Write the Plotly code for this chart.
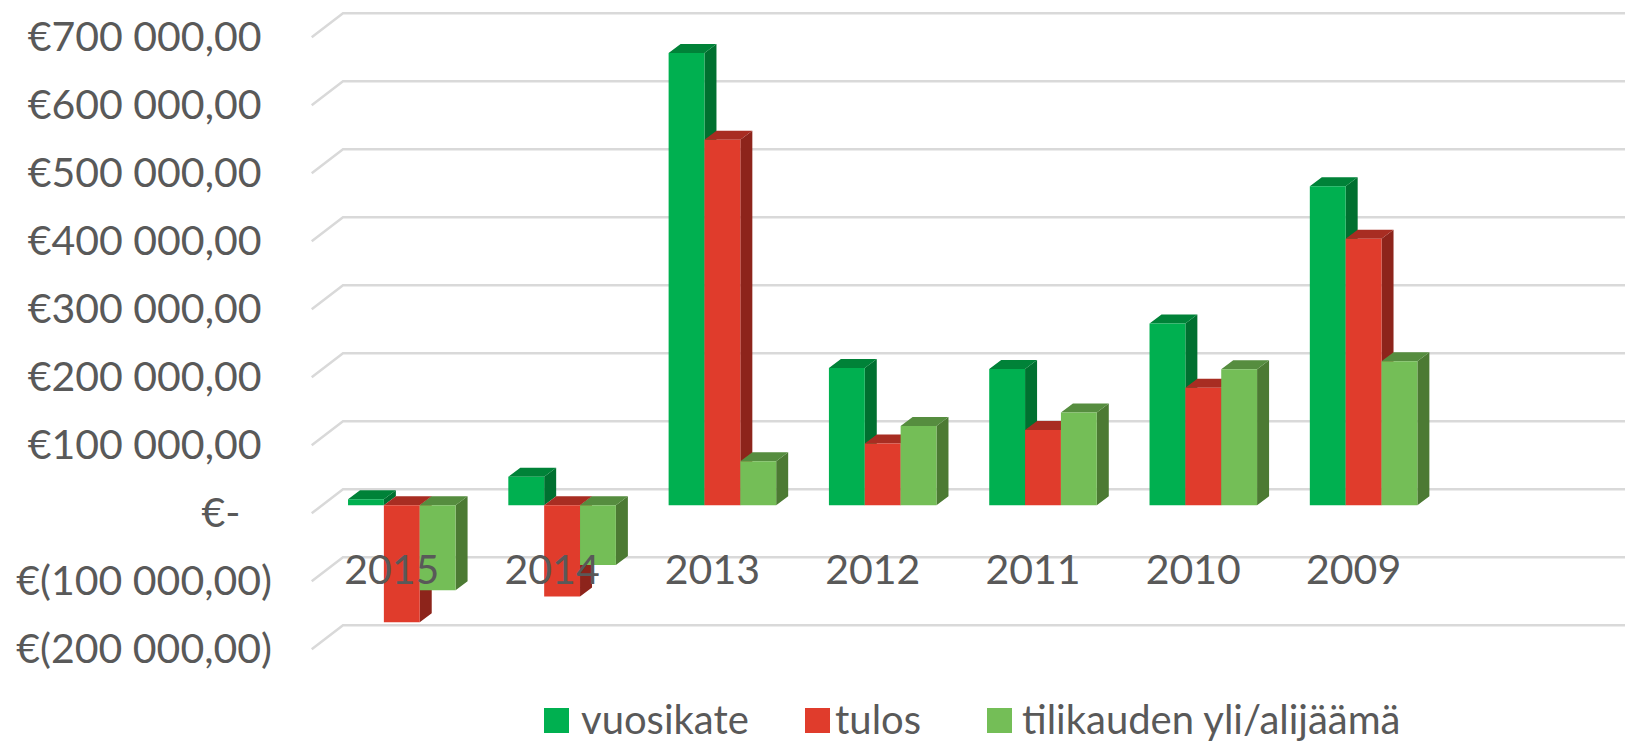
import plotly.graph_objects as go

years = ["2015", "2014", "2013", "2012", "2011", "2010", "2009"]
vuosikate = [8800, 42000, 665000, 202000, 200600, 267500, 469300]
tulos = [-172000, -134000, 537500, 90700, 110700, 173000, 392000]
yli_alijaama = [-125000, -87800, 64900, 116700, 136500, 200000, 212000]
series_names = ["vuosikate", "tulos", "tilikauden yli/alijäämä"]
y_ticks = [700000, 600000, 500000, 400000, 300000, 200000, 100000, 0, -100000, -200000]
y_labels = ["€700 000,00\u00a0", "€600 000,00\u00a0", "€500 000,00\u00a0", "€400 000,00\u00a0", "€300 000,00\u00a0",
            "€200 000,00\u00a0", "€100 000,00\u00a0", "€-\u00a0\u00a0\u00a0", "€(100 000,00)", "€(200 000,00)"]

W, H = 1625, 743
FONT = "Lato"
TEXT = "#595959"
GRID = "#D9D9D9"
front_col = ["#00B050", "#E03C2C", "#74BE57"]
top_col = ["#008238", "#A82D22", "#568D3F"]
side_col = ["#007030", "#8D241B", "#4C7A33"]

# axis calibration (pixels)
X0_PX, X_STEP = 401.8, 160.3
Y0_PX, Y_STEP = 505.3, 68.0
x_range = [(0 - X0_PX) / X_STEP, (W - X0_PX) / X_STEP]
y_range = [(Y0_PX - H) / Y_STEP * 1e5, Y0_PX / Y_STEP * 1e5]
px_x = 1 / X_STEP
px_y = 1e5 / Y_STEP
BAR_GAP = 0.329
bar_w = (1 - BAR_GAP) / 3
DEPTH_X, DEPTH_Y = 12 * px_x, 9 * px_y

fig = go.Figure()

# walls and gridlines: front edge, back edge, then to the right
wall_x0 = (311.7 - X0_PX) * px_x
wall_x1 = (343 - X0_PX) * px_x
gx, gy = [], []
for v in y_ticks:
    gx += [wall_x0, wall_x1, x_range[1], None]
    gy += [v - 8 * px_y, v + 16 * px_y, v + 16 * px_y, None]
fig.add_trace(go.Scatter(x=gx, y=gy, mode="lines", line=dict(color=GRID, width=2.5),
                         hoverinfo="skip", showlegend=False))

all_values = [vuosikate, tulos, yli_alijaama]
for s, values in enumerate(all_values):
    sx, sy, tx, ty = [], [], [], []
    for i, v in enumerate(values):
        left = i - 1.5 * bar_w + s * bar_w
        right = left + bar_w
        high = max(v, 0)
        low = min(v, 0)
        sx += [right, right + DEPTH_X, right + DEPTH_X, right, right, None]
        sy += [low, low + DEPTH_Y, high + DEPTH_Y, high, low, None]
        tx += [left, left + DEPTH_X, right + DEPTH_X, right, left, None]
        ty += [high, high + DEPTH_Y, high + DEPTH_Y, high, high, None]
    fig.add_trace(go.Scatter(x=sx, y=sy, mode="lines", fill="toself", fillcolor=side_col[s],
                             line=dict(width=0), hoverinfo="skip", showlegend=False))
    fig.add_trace(go.Scatter(x=tx, y=ty, mode="lines", fill="toself", fillcolor=top_col[s],
                             line=dict(width=0), hoverinfo="skip", showlegend=False))

for s, values in enumerate(all_values):
    fig.add_trace(go.Bar(x=years, y=values, name=series_names[s], marker=dict(color=front_col[s], line=dict(width=0)),
                         xaxis="x2", yaxis="y2", showlegend=False))

# legend
legend_sq = [544, 805, 987]
legend_tx = [579, 833, 1020]
shapes, annotations = [], []
for s, name in enumerate(series_names):
    shapes.append(dict(type="rect", xref="paper", yref="paper",
                       x0=legend_sq[s] / W, x1=(legend_sq[s] + 25) / W,
                       y0=1 - 733 / H, y1=1 - 708 / H,
                       fillcolor=front_col[s], line=dict(width=0)))
    annotations.append(dict(xref="paper", yref="paper", x=legend_tx[s] / W, y=1 - 719 / H,
                            xanchor="left", yanchor="middle", text=name, showarrow=False,
                            font=dict(family=FONT, size=40, color=TEXT)))

fig.update_layout(
    width=W, height=H, margin=dict(l=0, r=0, t=0, b=0),
    paper_bgcolor="white", plot_bgcolor="white",
    barmode="group", bargap=BAR_GAP, bargroupgap=0,
    showlegend=False, shapes=shapes, annotations=annotations,
    font=dict(family=FONT, color=TEXT, size=41),
    xaxis=dict(range=x_range, domain=[0, 1], visible=False, fixedrange=True),
    yaxis=dict(range=y_range, domain=[0, 1], anchor="free", position=272 / W, side="left",
               tickvals=y_ticks, ticktext=y_labels, showgrid=False, zeroline=False, showline=False,
               ticks="", ticklabelshift=7, tickfont=dict(family=FONT, size=41, color=TEXT), fixedrange=True),
    xaxis2=dict(type="category", overlaying="x", anchor="free", position=1 - 542 / H, range=x_range,
                tickmode="array", tickvals=years, ticktext=years, showgrid=False, zeroline=False,
                showline=False, ticks="", ticklabelshift=-10,
                tickfont=dict(family=FONT, size=41, color=TEXT), fixedrange=True),
    yaxis2=dict(overlaying="y", range=y_range, visible=False, fixedrange=True),
)

fig.write_html("out.html", config=dict(displayModeBar=False),
               post_script="document.body.style.margin='0';document.body.style.overflow='hidden';")
